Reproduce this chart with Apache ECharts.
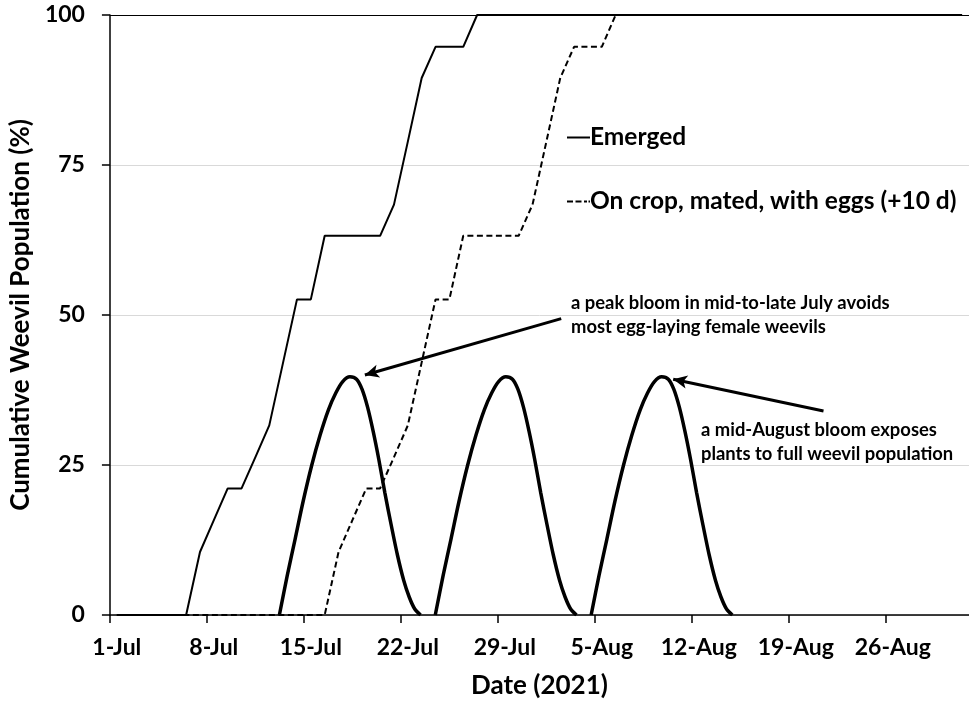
<!DOCTYPE html>
<html><head><meta charset="utf-8">
<script src="https://cdn.jsdelivr.net/npm/echarts@6/dist/echarts.min.js"></script>
<style>html,body{margin:0;padding:0;background:#fff}#c{width:969px;height:704px}</style>
</head><body><div id="c"></div>
<script>
// ---- data ----
const tickLabels = ['1-Jul','8-Jul','15-Jul','22-Jul','29-Jul','5-Aug','12-Aug','19-Aug','26-Aug'];
const tickDays = [0,7,14,21,28,35,42,49,56];   // days after 1-Jul
const yTicks = [0,25,50,75,100];

const emergedDates = ['2021-07-01','2021-07-06','2021-07-07','2021-07-08','2021-07-09','2021-07-10','2021-07-11','2021-07-12','2021-07-13','2021-07-14','2021-07-15','2021-07-16','2021-07-17','2021-07-18','2021-07-19','2021-07-20','2021-07-21','2021-07-22','2021-07-23','2021-07-24','2021-07-25','2021-07-26','2021-07-27','2021-08-31'];
const emergedPct   = [0,0,10.5,15.8,21.1,21.1,26.3,31.6,42.1,52.6,52.6,63.2,63.2,63.2,63.2,63.2,68.4,78.9,89.5,94.7,94.7,94.7,100,100];

const eggDates = ['2021-07-01','2021-07-16','2021-07-17','2021-07-18','2021-07-19','2021-07-20','2021-07-21','2021-07-22','2021-07-23','2021-07-24','2021-07-25','2021-07-26','2021-07-27','2021-07-28','2021-07-29','2021-07-30','2021-07-31','2021-08-01','2021-08-02','2021-08-03','2021-08-04','2021-08-05','2021-08-06','2021-08-31'];
const eggPct   = [0,0,10.5,15.8,21.1,21.1,26.3,31.6,42.1,52.6,52.6,63.2,63.2,63.2,63.2,63.2,68.4,78.9,89.5,94.7,94.7,94.7,100,100];

// bloom curves: day position after 1-Jul, value (%)
const bloom1Days = [12.23,12.8,13.37,13.95,14.57,15.17,15.77,16.3,16.8,17.32,17.8,18.2,18.6,19.0,19.4,19.84,20.3,20.75,21.2,21.6,22.0,22.42];
const bloom1Vals = [0,6.6,12.7,19.0,25.0,30.0,34.2,37.0,38.9,39.7,39.3,37.6,34.6,30.6,26.0,20.4,15.0,10.0,5.8,3.0,1.0,0];
const bloom2Days = [23.48,24.05,24.62,25.2,25.82,26.42,27.02,27.55,28.05,28.57,29.05,29.45,29.85,30.25,30.65,31.09,31.55,32.0,32.45,32.85,33.25,33.67];
const bloom2Vals = [0,6.6,12.7,19.0,25.0,30.0,34.2,37.0,38.9,39.7,39.3,37.6,34.6,30.6,26.0,20.4,15.0,10.0,5.8,3.0,1.0,0];
const bloom3Days = [34.73,35.3,35.87,36.45,37.07,37.67,38.27,38.8,39.3,39.82,40.3,40.7,41.1,41.5,41.9,42.34,42.8,43.25,43.7,44.1,44.5,44.92];
const bloom3Vals = [0,6.6,12.7,19.0,25.0,30.0,34.2,37.0,38.9,39.7,39.3,37.6,34.6,30.6,26.0,20.4,15.0,10.0,5.8,3.0,1.0,0];

const legendNames = ['Emerged','On crop, mated, with eggs (+10 d)'];
const note1 = 'a peak bloom in mid-to-late July avoids\nmost egg-laying female weevils';
const note2 = 'a mid-August bloom exposes\nplants to full weevil population';
const arrow1 = [[32.57,49.4],[18.4,40.0]];
const arrow2 = [[51.5,34.0],[40.65,39.3]];

// ---- helpers ----
const FONT = 'Lato, "Liberation Sans", sans-serif';
const base = Date.UTC(2021,6,1);
function pos(s){const p=s.split('-').map(Number);return (Date.UTC(p[0],p[1]-1,p[2])-base)/864e5+0.5;}
const zip = (a,b)=>a.map((v,i)=>[v,b[i]]);

const chart = echarts.init(document.getElementById('c'), null, {renderer:'canvas'});
chart.setOption({
  animation:false,
  backgroundColor:'#fff',
  grid:{left:107, right:0, top:15, bottom:89, containLabel:false},
  xAxis:{
    type:'value', min:0, max:62,
    name:'Date (2021)', nameLocation:'middle', nameGap:58,
    nameTextStyle:{fontFamily:FONT, fontWeight:'bold', fontSize:26, color:'#000'},
    axisLine:{lineStyle:{color:'#000', width:1.5}},
    axisTick:{show:true, length:8, lineStyle:{color:'#000', width:1.5}, customValues:tickDays},
    axisLabel:{customValues:tickDays.map(d=>d+0.5), margin:21,
      formatter:v=>tickLabels[tickDays.indexOf(Math.floor(v))] || '',
      fontFamily:FONT, fontWeight:'bold', fontSize:23, color:'#000'},
    splitLine:{show:false}
  },
  yAxis:{
    type:'value', min:0, max:100, interval:25,
    name:'Cumulative Weevil Population (%)', nameLocation:'middle', nameGap:64,
    nameTextStyle:{fontFamily:FONT, fontWeight:'bold', fontSize:26, color:'#000'},
    axisLine:{show:true, lineStyle:{color:'#000', width:1.5}},
    axisTick:{show:true, length:8, lineStyle:{color:'#000', width:1.5}},
    axisLabel:{margin:25, fontFamily:FONT, fontWeight:'bold', fontSize:23, color:'#000',
      formatter:v=>yTicks.includes(v)?String(v):''},
    splitLine:{show:true, lineStyle:{color:['#d9d9d9','#d9d9d9','#d9d9d9','#d9d9d9','#000000'], width:1}}
  },
  legend:{
    data:[
      {name:legendNames[0], icon:'path://M0,0H23V2H0Z'},
      {name:legendNames[1], icon:'path://M0,0H6V2H0Z M8.5,0H14.5V2H8.5Z M17,0H20V2H17Z M21.5,0H23V2H21.5Z'}
    ],
    orient:'vertical', left:562, top:120, itemGap:39,
    itemWidth:23, itemHeight:2,
    itemStyle:{color:'#000', borderWidth:0},
    textStyle:{fontFamily:FONT, fontWeight:'bold', fontSize:24.5, color:'#000', padding:[0,0,0,-5]},
    selectedMode:false
  },
  series:[
    {name:'bloom1', type:'line', data:zip(bloom1Days,bloom1Vals), smooth:0.3, symbol:'none',
      lineStyle:{color:'#000', width:3.5}, z:3,
      markLine:{silent:true, symbol:['none','arrow'], symbolSize:[10,14], label:{show:false},
        lineStyle:{color:'#000', width:3, type:'solid'},
        data:[[{coord:arrow1[0]},{coord:arrow1[1]}],[{coord:arrow2[0]},{coord:arrow2[1]}]]}},
    {name:'bloom2', type:'line', data:zip(bloom2Days,bloom2Vals), smooth:0.3, symbol:'none',
      lineStyle:{color:'#000', width:3.5}, z:3},
    {name:'bloom3', type:'line', data:zip(bloom3Days,bloom3Vals), smooth:0.3, symbol:'none',
      lineStyle:{color:'#000', width:3.5}, z:3},
    {name:legendNames[0], type:'line', data:zip(emergedDates.map(pos),emergedPct), symbol:'none',
      lineStyle:{color:'#000', width:2}, itemStyle:{color:'#000'}, z:4},
    {name:legendNames[1], type:'line', data:zip(eggDates.map(pos),eggPct), symbol:'none',
      lineStyle:{color:'#000', width:2, type:[6,3.5]}, itemStyle:{color:'#000'}, z:4}
  ],
  graphic:[
    {type:'text', left:571, top:291, z:10, style:{text:note1, font:'bold 18.4px '+FONT, lineHeight:24, fill:'#000'}},
    {type:'text', left:701, top:418, z:10, style:{text:note2, font:'bold 18.4px '+FONT, lineHeight:24, fill:'#000'}}
  ]
});
</script></body></html>
